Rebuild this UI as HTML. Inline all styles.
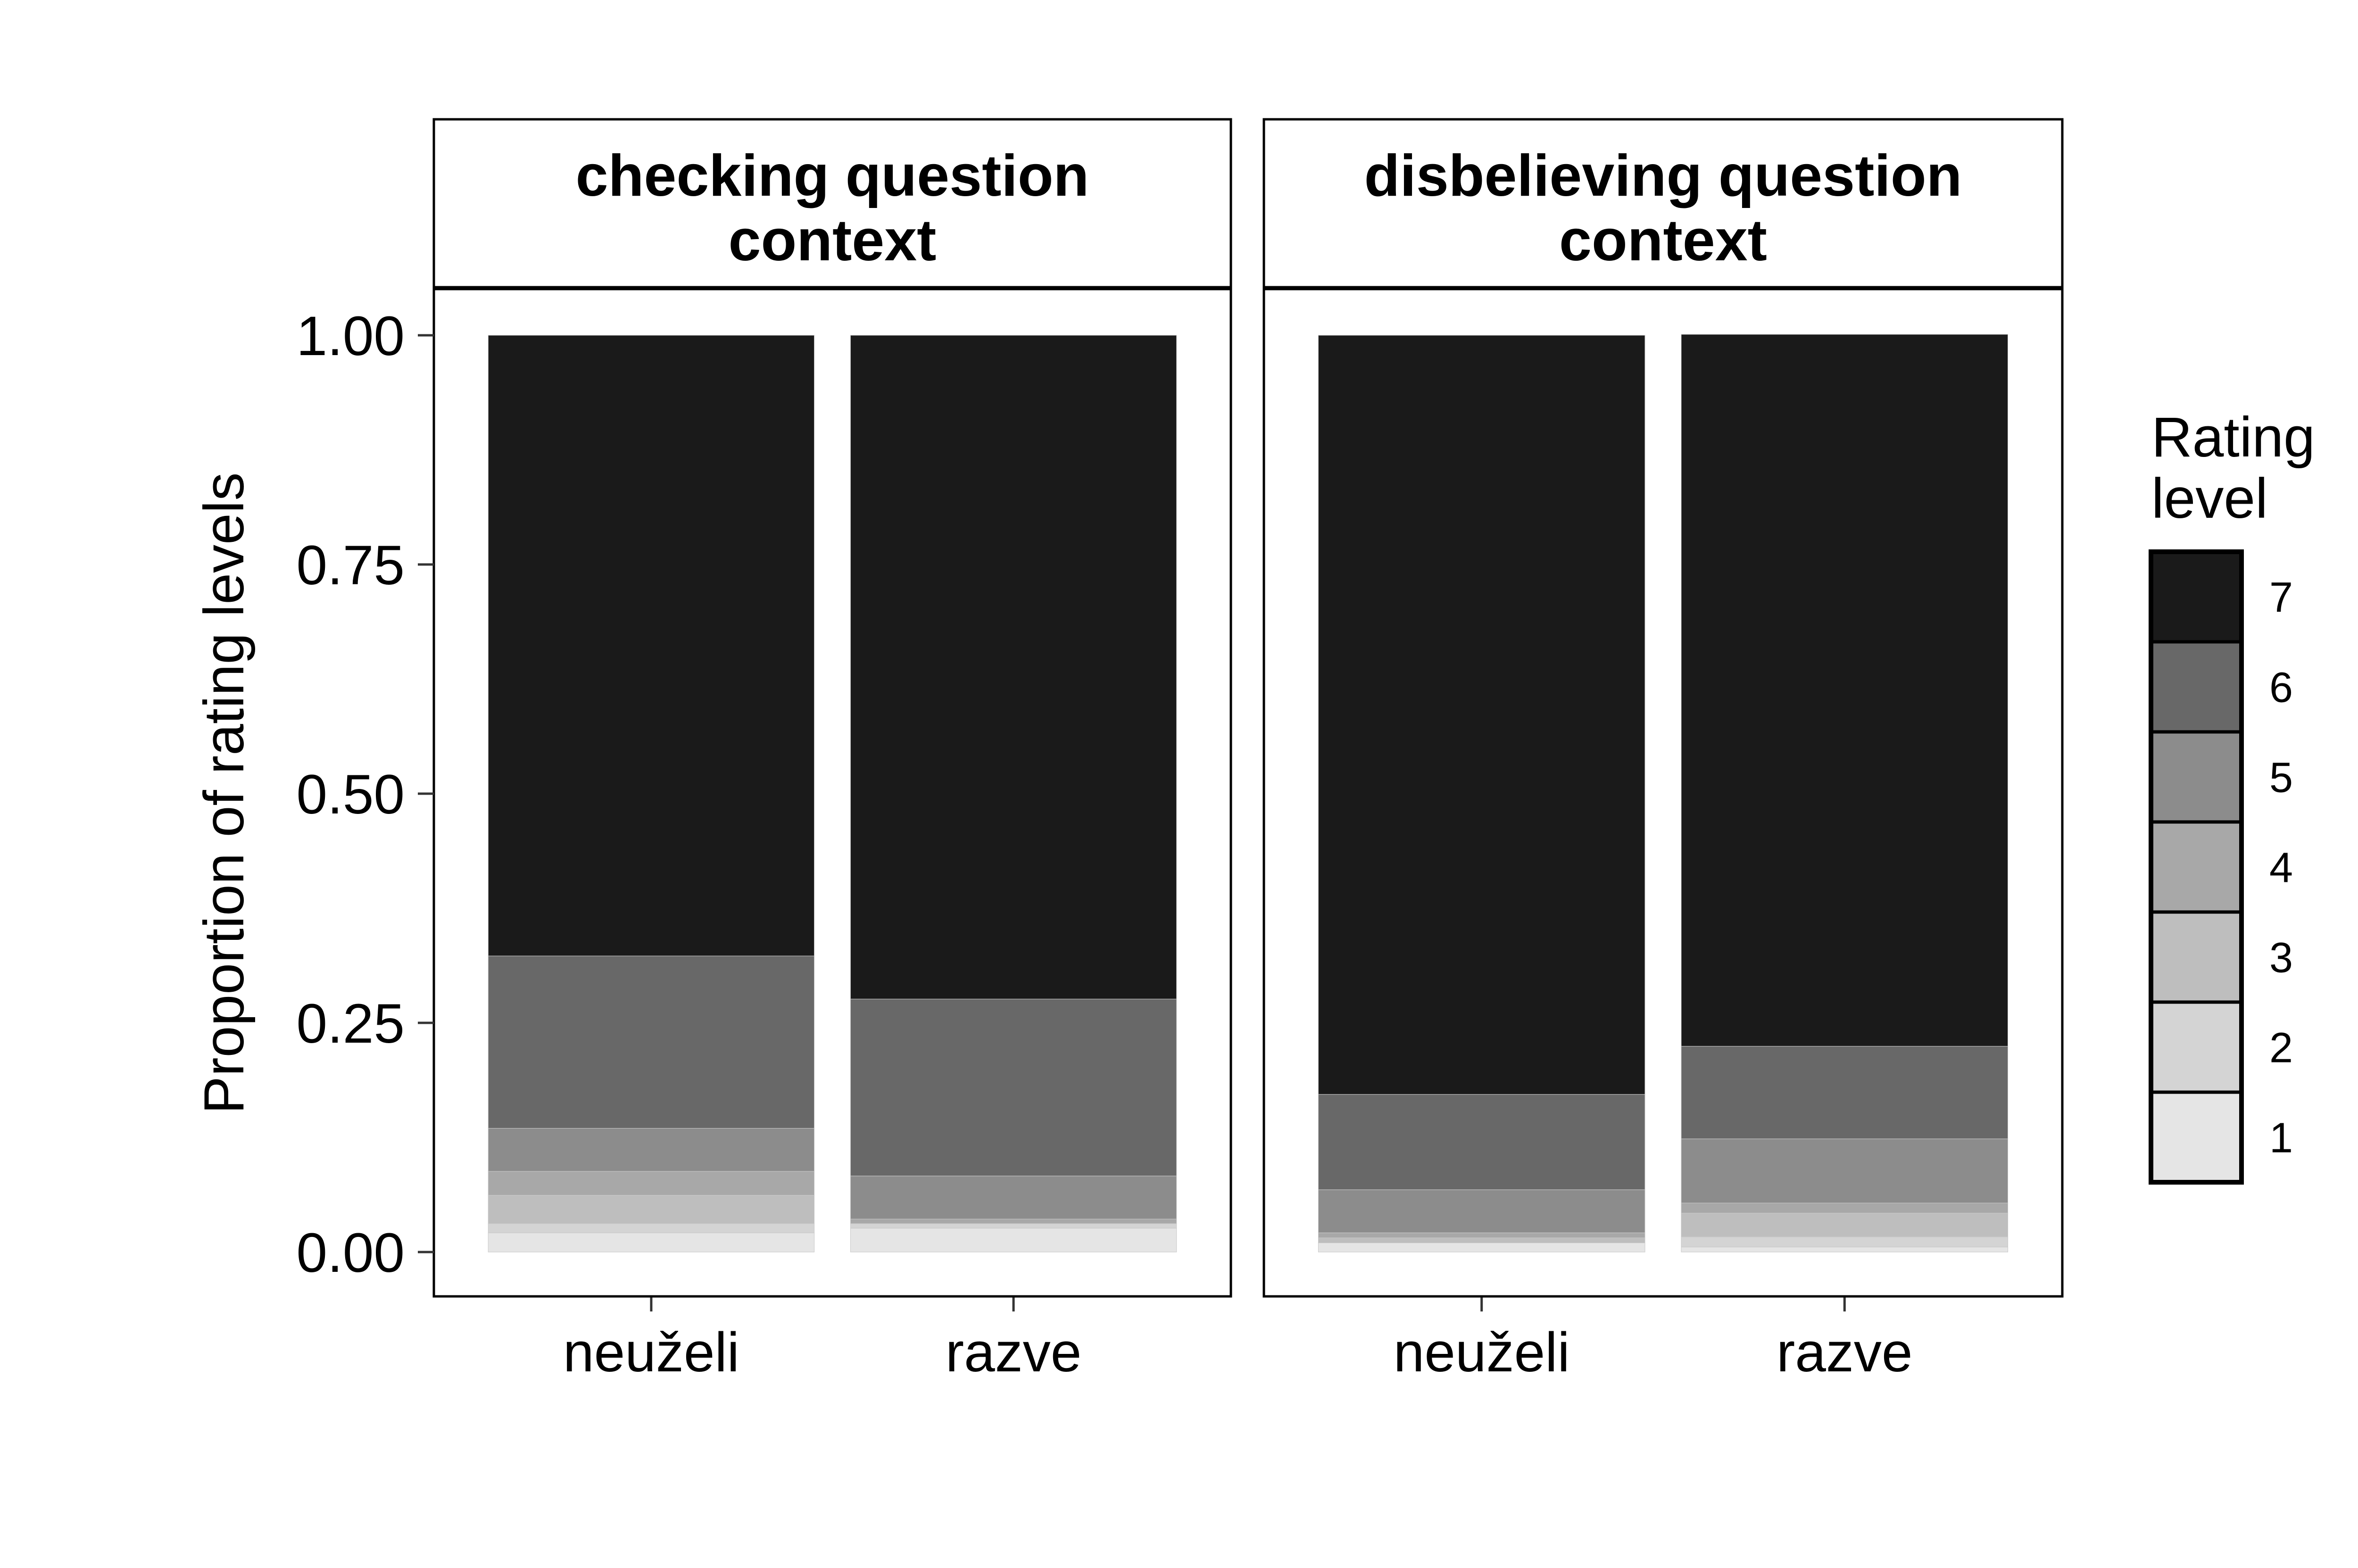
<!DOCTYPE html>
<html><head><meta charset="utf-8"><style>
html,body{margin:0;padding:0;background:#fff;}
svg{display:block;font-family:"Liberation Sans",sans-serif;}
</style></head><body>
<svg id="chart" width="5443" height="3325" viewBox="0 0 5443 3325" xmlns="http://www.w3.org/2000/svg">
<g id="layer"></g>
</svg>
<script>
const panels = ["checking question context", "disbelieving question context"];
const panelLines = [["checking question", "context"], ["disbelieving question", "context"]];
const categories = ["neuželi", "razve"];
const levels = ["1", "2", "3", "4", "5", "6", "7"];
// proportions per level (1..7) for each panel/category
const checkingNeuzeli = [0.021, 0.010, 0.031, 0.026, 0.047, 0.188, 0.677];
const checkingRazve = [0.026, 0.005, 0.000, 0.005, 0.047, 0.193, 0.724];
const disbelievingNeuzeli = [0.010, 0.000, 0.0055, 0.0055, 0.047, 0.104, 0.828];
const disbelievingRazve = [0.0055, 0.011, 0.026, 0.011, 0.070, 0.101, 0.7765];
const yTicks = [0, 0.25, 0.5, 0.75, 1.0];
const yTickLabels = ["0.00", "0.25", "0.50", "0.75", "1.00"];
const fills = ["#e5e5e5", "#d4d4d4", "#bebebe", "#a8a8a8", "#8c8c8c", "#686868", "#1a1a1a"];

const seriesByPanel = [[checkingNeuzeli, checkingRazve], [disbelievingNeuzeli, disbelievingRazve]];
const NS = "http://www.w3.org/2000/svg";
const layer = document.getElementById("layer");
function el(tag, attrs, parent) {
  const e = document.createElementNS(NS, tag);
  for (const k in attrs) e.setAttribute(k, attrs[k]);
  (parent || layer).appendChild(e);
  return e;
}
const panelX = [[920, 2610], [2680, 4373]];
const stripTop = 253, stripBot = 611, panelBot = 2749;
const y0 = 2655, y1 = 711;
function yScale(v) { return y0 - v * (y0 - y1); }
function xScale(p, i) { const [a, b] = panelX[p]; const u = (b - a) / 2.2; return a + (0.6 + i) * u; }
function bw(p) { return 0.9 * (panelX[p][1] - panelX[p][0]) / 2.2; }

panels.forEach((pn, p) => {
  const [a, b] = panelX[p];
  const g = el("g", {});
  
  
  // bars
  categories.forEach((c, i) => {
    const vals = seriesByPanel[p][i];
    let cum = 0;
    const cx = xScale(p, i), w = bw(p);
    vals.forEach((v, k) => {
      const yt = yScale(cum + v), yb = yScale(cum);
      cum += v;
      if (v <= 0) return;
      const r = el("rect", { x: cx - w / 2, y: yt, width: w, height: yb - yt, fill: fills[k], stroke: "#c8c8c8", "stroke-width": 1 }, g);
      
      
    });
    // x tick + label
    const t = el("line", { x1: cx, x2: cx, y1: panelBot, y2: panelBot + 32, stroke: "#333", "stroke-width": 5 }, g);
    
    
    const lab = el("text", { x: cx, y: 2908, "font-size": 118, "text-anchor": "middle", fill: "#000" }, g);
    lab.textContent = c;
    
    
  });
  // panel border
  const pb = el("rect", { x: a, y: stripBot, width: b - a, height: panelBot - stripBot, fill: "none", stroke: "#000", "stroke-width": 5 }, g);
  
  
  // strip
  const sb = el("rect", { x: a, y: stripTop, width: b - a, height: stripBot - stripTop, fill: "#fff", stroke: "#000", "stroke-width": 5 }, g);
  
  
  const sl = el("line", { x1: a, x2: b, y1: stripBot, y2: stripBot, stroke: "#000", "stroke-width": 9 }, g);
  
  
  const st = el("text", { x: (a + b) / 2, "font-size": 124, "font-weight": "bold", "text-anchor": "middle", fill: "#000" }, g);
  
  
  panelLines[p].forEach((ln, j) => {
    const ts = el("tspan", { x: (a + b) / 2, y: 415 + j * 137 }, st);
    ts.textContent = ln;
  });
});

// y axis
yTicks.forEach((v, i) => {
  const y = yScale(v);
  const t = el("line", { x1: 886, x2: 920, y1: y, y2: y, stroke: "#333", "stroke-width": 5 });
  
  
  const lab = el("text", { x: 858, y: y + 42, "font-size": 118, "text-anchor": "end", fill: "#000" });
  lab.textContent = yTickLabels[i];
  
  
});
const yt = el("text", { x: 0, y: 0, "font-size": 120, "text-anchor": "middle", fill: "#000", transform: "translate(516,1682) rotate(-90)" });
yt.textContent = "Proportion of rating levels";



// legend
const lg = el("g", {});


const lt = el("text", { x: 4562, "font-size": 120, fill: "#000" }, lg);


[["Rating", 968], ["level", 1098]].forEach(([s, y]) => { const ts = el("tspan", { x: 4562, y: y }, lt); ts.textContent = s; });
const kTop = 1170, kH = 191, kx = 4561, kw = 192;
for (let k = 6; k >= 0; k--) {
  const idx = 6 - k;
  const ky = kTop + idx * kH;
  const r = el("rect", { x: kx, y: ky, width: kw, height: kH, fill: fills[k], stroke: "#000", "stroke-width": 7 }, lg);
  
  
  const tx = el("text", { x: 4837, y: ky + kH / 2 + 32, "font-size": 90, "text-anchor": "middle", fill: "#000" }, lg);
  tx.textContent = levels[k];
  
  
}
const lb = el("rect", { x: kx, y: kTop, width: kw, height: 7 * kH, fill: "none", stroke: "#000", "stroke-width": 10 }, lg);


</script>
</body></html>
